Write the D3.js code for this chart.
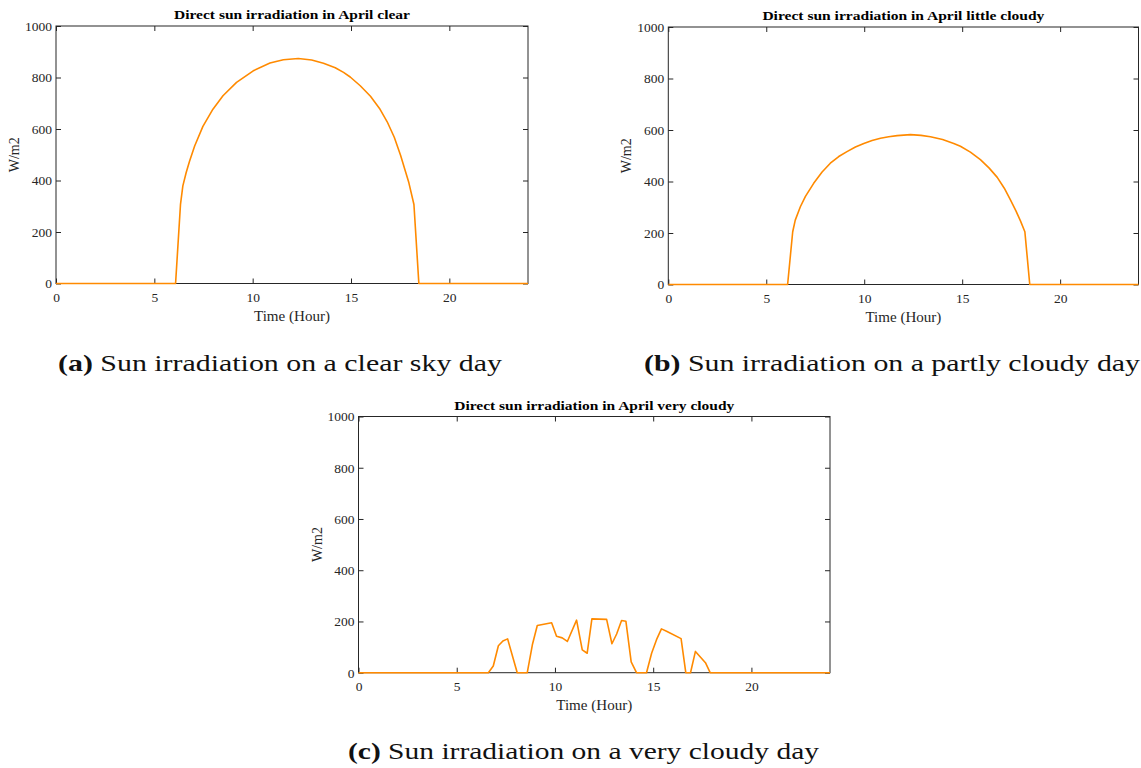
<!DOCTYPE html>
<html>
<head>
<meta charset="utf-8">
<script src="https://cdn.jsdelivr.net/npm/d3@7"></script>
<style>
  body { margin: 0; background: #fff; }
  svg { display: block; }
  text { font-family: "Liberation Serif", "Times New Roman", serif; }
</style>
</head>
<body>
<svg id="fig" width="1141" height="768"></svg>
<script>
// hours and W/m2
const clearHours = [0, 6.08, 6.33, 6.45, 6.62, 6.79, 7.05, 7.47, 7.98, 8.49, 9.18, 10.03, 10.88, 11.56, 12.32, 13.0, 13.6, 14.2, 14.62, 14.96, 15.47, 15.99, 16.45, 16.84, 17.2, 17.52, 17.77, 17.94, 18.2, 18.45, 24];
const clearVals  = [0, 0, 307, 379, 431, 475, 534, 610, 677, 729, 781, 826, 856, 869, 874, 868, 855, 838, 820, 802, 768, 727, 680, 628, 568, 498, 435, 392, 307, 0, 0];

const littleHours = [0, 6.09, 6.35, 6.48, 6.74, 7.0, 7.42, 7.85, 8.27, 8.7, 9.12, 9.55, 9.98, 10.4, 10.83, 11.25, 11.68, 12.36, 12.9, 13.38, 14.0, 14.57, 14.91, 15.42, 15.93, 16.38, 16.79, 17.15, 17.47, 17.75, 17.98, 18.2, 18.45, 24];
const littleVals  = [0, 0, 205, 250, 302, 342, 393, 437, 471, 497, 516, 534, 548, 559, 568, 574, 578, 582, 579, 574, 563, 548, 537, 514, 485, 452, 416, 374, 328, 285, 246, 205, 0, 0];

const veryHours = [0, 6.61, 6.86, 7.12, 7.35, 7.59, 8.08, 8.59, 8.85, 9.10, 9.83, 10.08, 10.37, 10.63, 11.10, 11.39, 11.64, 11.88, 12.63, 12.90, 13.14, 13.39, 13.61, 13.88, 14.15, 14.66, 14.92, 15.17, 15.42, 15.68, 16.42, 16.66, 16.90, 17.15, 17.66, 17.90, 24];
const veryVals  = [0, 0, 26, 105, 124, 132, 0, 0, 109, 184, 195, 142, 136, 122, 205, 89, 76, 210, 208, 113, 151, 204, 201, 42, 0, 0, 76, 129, 171, 162, 133, 0, 0, 83, 39, 0, 0];

const xTicks = [0, 5, 10, 15, 20];
const yTicks = [0, 200, 400, 600, 800, 1000];

const panels = [
  { title: "Direct sun irradiation in April clear", titleLen: 236,
    hours: clearHours, vals: clearVals,
    box: [56, 528, 26, 283.5],
    label: "(a)", caption: " Sun irradiation on a clear sky day", capX: 58, capY: 371, capLen: 444 },
  { title: "Direct sun irradiation in April little cloudy", titleLen: 282,
    hours: littleHours, vals: littleVals,
    box: [668.3, 1138.5, 27, 284.5],
    label: "(b)", caption: " Sun irradiation on a partly cloudy day", capX: 644, capY: 371, capLen: 496 },
  { title: "Direct sun irradiation in April very cloudy", titleLen: 280,
    hours: veryHours, vals: veryVals,
    box: [358.5, 830, 416.5, 672.7],
    label: "(c)", caption: " Sun irradiation on a very cloudy day", capX: 348, capY: 759, capLen: 471 }
];

const svg = d3.select("#fig");
const axisColor = "#262626";

function drawPanel(p) {
  const [x0, x1, y0, y1] = p.box;
  const x = d3.scaleLinear().domain([0, 24]).range([x0, x1]);
  const y = d3.scaleLinear().domain([0, 1000]).range([y1, y0]);
  const g = svg.append("g");

  // bottom + left with labels, top + right ticks only (box on)
  const styleAxis = sel => {
    sel.attr("font-family", null).attr("font-size", null);
    sel.select(".domain").remove();
    sel.selectAll("line").attr("stroke", axisColor);
    sel.selectAll("text").attr("fill", axisColor).style("font-size", "13.5px");
  };
  g.append("g").attr("transform", `translate(0,${y1})`)
    .call(d3.axisBottom(x).tickValues(xTicks).tickFormat(d3.format("d"))
      .tickSizeInner(-5).tickSizeOuter(0).tickPadding(9))
    .call(styleAxis);
  g.append("g").attr("transform", `translate(${x0},0)`)
    .call(d3.axisLeft(y).tickValues(yTicks).tickFormat(d3.format("d"))
      .tickSizeInner(-5).tickSizeOuter(0).tickPadding(4))
    .call(styleAxis);
  g.append("g").attr("transform", `translate(0,${y0})`)
    .call(d3.axisTop(x).tickValues(xTicks).tickSizeInner(-5).tickSizeOuter(0).tickFormat(""))
    .call(styleAxis);
  g.append("g").attr("transform", `translate(${x1},0)`)
    .call(d3.axisRight(y).tickValues(yTicks).tickSizeInner(-5).tickSizeOuter(0).tickFormat(""))
    .call(styleAxis);

  g.append("rect")
    .attr("x", x0).attr("y", y0)
    .attr("width", x1 - x0).attr("height", y1 - y0)
    .attr("fill", "none").attr("stroke", axisColor).attr("stroke-width", 1);

  const line = d3.line()
    .x((d, i) => x(p.hours[i]))
    .y(d => y(d));
  g.append("path")
    .datum(p.vals)
    .attr("d", line)
    .attr("fill", "none")
    .attr("stroke", "#ff8a00")
    .attr("stroke-width", 1.6)
    .attr("stroke-linejoin", "round");

  // title
  g.append("text")
    .attr("x", (x0 + x1) / 2).attr("y", y0 - 7)
    .attr("text-anchor", "middle")
    .attr("textLength", p.titleLen).attr("lengthAdjust", "spacingAndGlyphs")
    .style("font-size", "13.5px").style("font-weight", "bold")
    .text(p.title);

  // axis labels
  g.append("text")
    .attr("x", (x0 + x1) / 2).attr("y", y1 + 37)
    .attr("text-anchor", "middle")
    .attr("fill", axisColor)
    .attr("textLength", 76).attr("lengthAdjust", "spacingAndGlyphs")
    .style("font-size", "14px")
    .text("Time (Hour)");
  g.append("text")
    .attr("transform", `translate(${x0 - 37},${(y0 + y1) / 2}) rotate(-90)`)
    .attr("text-anchor", "middle")
    .attr("fill", axisColor)
    .style("font-size", "14px")
    .text("W/m2");

  // sub-figure caption
  const cap = svg.append("text")
    .attr("x", p.capX).attr("y", p.capY)
    .attr("textLength", p.capLen).attr("lengthAdjust", "spacingAndGlyphs")
    .style("font-size", "24px")
    .attr("fill", "#111");
  cap.append("tspan").style("font-weight", "bold").text(p.label);
  cap.append("tspan").text(p.caption);
}

panels.forEach(drawPanel);
</script>
</body>
</html>
